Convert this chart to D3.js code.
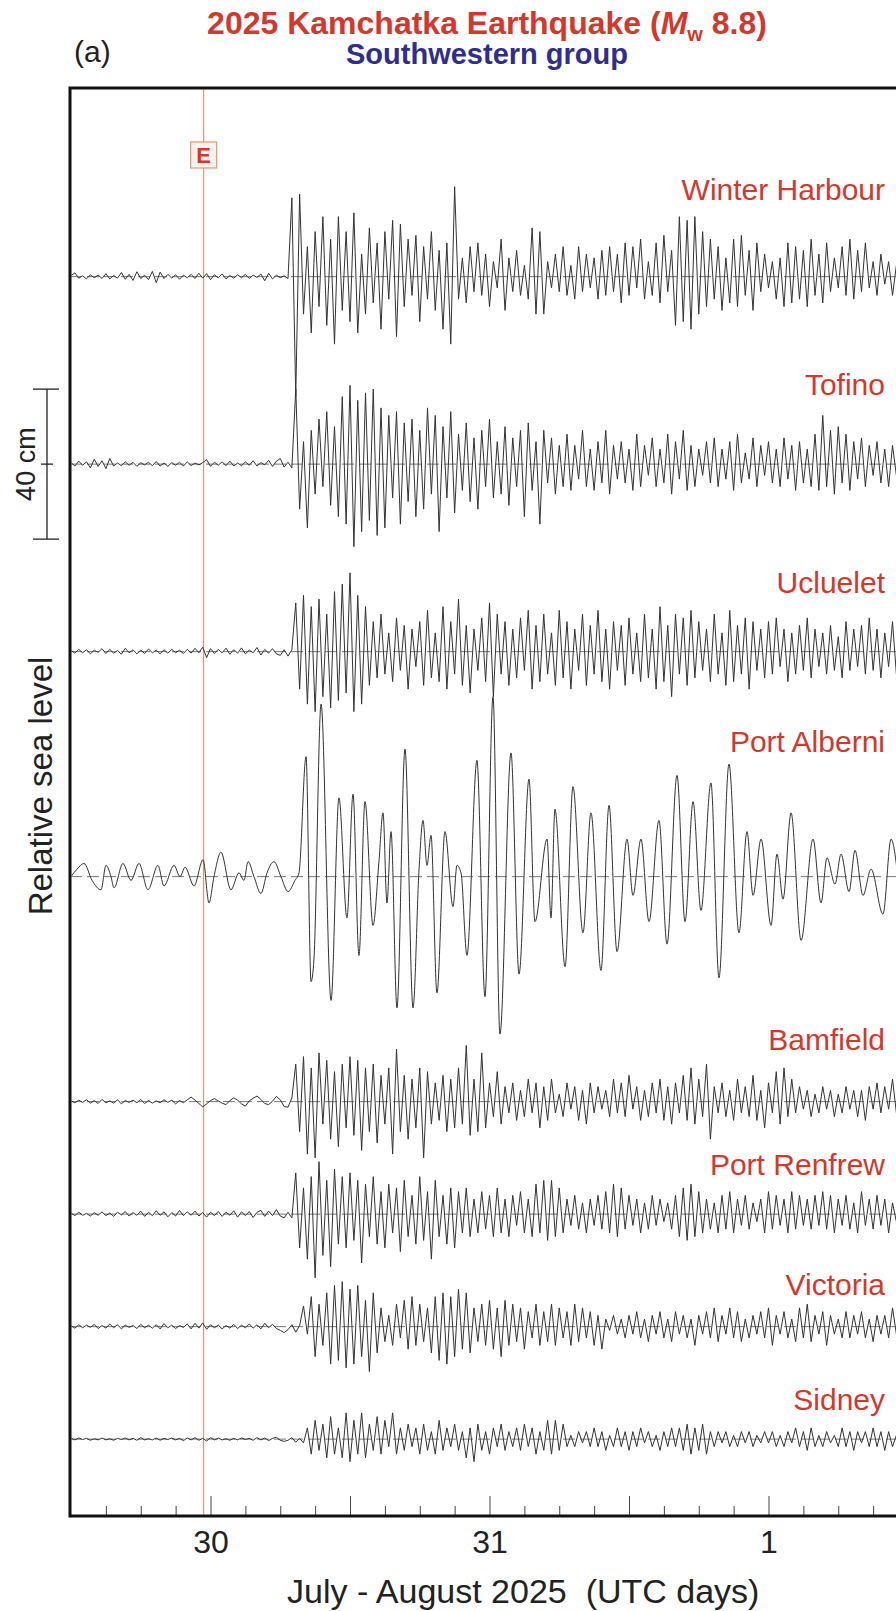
<!DOCTYPE html>
<html>
<head>
<meta charset="utf-8">
<script src="https://cdn.jsdelivr.net/npm/d3@7"></script>
<style>
  body { margin: 0; background: #fff; }
  svg { display: block; font-family: "Liberation Sans", Arial, sans-serif; }
</style>
</head>
<body>
<div id="chart"></div>
<script>
// Stations from top to bottom and the offset of each record (cm)
const stations = ["Winter Harbour", "Tofino", "Ucluelet", "Port Alberni", "Bamfield", "Port Renfrew", "Victoria", "Sidney"];
const offsetsCm = [310, 260, 210, 150, 90, 60, 30, 0];

const winterHarbour = [
  0.3,1.0,-0.4,0.2,-0.6,0.5,-0.3,0.4,-0.5,0.8, -0.6,0.3,-0.4,1.1,-0.7,0.6,-1.0,1.3,-0.5,0.4,
  -0.8,1.4,-1.6,1.2,-0.5,0.6,-0.4,0.5,-0.7,0.4, -0.3,0.6,-0.5,0.9,-0.4,0.8,-0.8,0.5,-0.3,0.7,
  -0.6,0.3,-0.4,0.5,-0.3,0.6,-0.5,0.4,-0.2,0.7, -1.1,0.9,-0.6,0.4,-0.3,0.2,
  -0.5,21,-32,22,-10,8,-15,12,-8,16, -13,10,-18,16,-9,12,-12,17,-15,6,
  -10,13,-7,9,-14,12,-6,15,-16,14, -8,10,-5,11,-12,8,-6,12,-9,7,
  -14,9,-18,24,-6,5,-7,8,-4,9, -5,6,-8,4,-3,10,-9,5,-4,7,
  -5,3,-6,13,-10,12,-10,4,-3,6, -4,8,-5,3,-6,8,-4,6,-3,5,
  -6,7,-5,8,-4,6,-7,9,-5,8, -3,10,-6,4,-5,9,-7,11,-4,7,
  -13,16,-12,15,-14,16,-10,12,-8,10, -6,8,-9,5,-7,10,-8,11,-5,7,
  -9,9,-4,6,-3,4,-6,5,-8,9, -7,8,-6,7,-8,10,-5,6,-7,9,
  -4,5,-3,8,-5,10,-6,7,-4,9, -3,4,-5,6,-2,4,-5,3,-2
];
const tofino = [
  0.4,-0.5,0.8,-0.3,0.6,-1.0,1.3,-0.6,0.9,-1.2, 1.5,-0.5,0.3,-0.4,0.6,-0.3,0.5,-0.6,0.4,-0.2,
  0.5,-0.4,0.7,-0.5,0.3,-0.6,0.4,-0.3,0.5,-0.5, 0.6,-0.4,0.3,-0.2,0.4,1.2,-0.6,0.5,-0.3,0.6,
  -0.4,0.8,-0.5,0.3,-0.4,0.6,-0.3,0.9,-0.5,0.4, -0.2,1.0,-0.6,0.8,1.5,-0.8,
  0.5,-1,20,-12,6,-17,9,-8,12,-6, 14,-11,10,-14,18,-16,21,-22,17,-18,
  19,-15,20,-19,15,-17,13,-9,14,-16, 11,-10,12,-14,9,-12,15,-8,13,-18,
  10,-9,14,-13,8,-7,11,-10,7,-12, 9,-6,12,-9,6,-8,10,-11,7,-6,
  9,-14,11,-7,6,-16,9,-5,7,-8, 5,-6,8,-7,5,-4,9,-6,4,-7,
  6,-5,9,-8,5,-4,6,-5,4,-7, 8,-6,5,-3,7,-6,4,-5,8,-8,
  6,-4,9,-7,5,-6,4,-3,6,-5, 7,-6,4,-4,6,-7,8,-5,3,-4,
  7,-6,5,-3,6,-5,4,-6,7,-4, 5,-7,6,-5,4,-6,8,-7,13,-6,
  9,-8,10,-5,8,-7,6,-4,7,-6, 5,-3,6,-5,4,-6,5,-3,2
];
const ucluelet = [
  0.3,-0.4,0.6,-0.3,0.5,-0.6,0.4,-0.2,0.8,-0.5, 0.6,-0.4,0.3,-0.7,0.9,-0.3,0.5,-0.6,0.4,-0.5,
  0.7,-0.3,0.4,-0.6,0.5,-0.4,0.6,-0.3,0.4,-0.5, 0.6,-0.4,0.9,-0.3,1.2,-1.6,0.8,-0.5,0.6,-0.3,
  0.9,-0.7,0.5,-0.4,1.0,-0.6,0.4,-0.3,1.1,-0.9, 0.6,-0.4,0.8,-0.6,-1.0,0.5,
  -1.2,0.5,13,-10,15,-14,12,-16,14,-12, 10,-15,16,-13,18,-11,21,-16,15,-14,
  12,-9,8,-7,10,-6,5,-8,9,-5, 7,-10,6,-4,8,-9,11,-7,5,-8,
  12,-10,8,-6,14,-9,7,-11,6,-5, 9,-8,13,-12,10,-6,8,-9,6,-7,
  9,-5,11,-10,7,-8,10,-6,5,-9, 11,-7,8,-10,6,-5,10,-9,7,-6,
  11,-8,6,-10,8,-5,7,-9,9,-6, 5,-8,10,-7,6,-10,12,-8,7,-12,
  10,-6,9,-9,11,-7,8,-5,6,-8, 10,-6,5,-9,11,-8,7,-6,9,-10,
  8,-5,6,-7,8,-6,9,-4,6,-8, 5,-6,7,-5,9,-7,6,-4,5,-6,
  7,-5,4,-7,8,-5,6,-4,7,-6, 9,-5,6,-7,5,-4,8,-6,3
];
const bamfield = [
  0.2,-0.3,0.4,-0.2,0.5,-0.4,0.3,-0.5,0.6,-0.3, 0.2,-0.4,0.5,-0.6,0.3,-0.2,0.4,-0.3,0.6,-0.5,
  0.3,-0.4,0.2,-0.3,0.5,-0.2,0.4,-0.6,0.3,-0.3, 0.5,1.2,0.4,-0.5,-1.4,-0.6,0.3,0.8,0.2,-0.4,
  -0.8,0.3,1.0,0.4,-0.6,-1.2,0.2,0.9,1.5,0.6, -0.5,-0.8,0.1,1.4,0.5,-1.3,
  -1.5,1,10,-8,12,-14,9,-15,13,-6, 11,-10,8,-12,10,-7,12,-9,11,-13,
  9,-8,10,-11,7,-6,9,-14,14,-8, 7,-10,6,-7,9,-15,8,-6,5,-5,
  7,-8,6,-7,9,-6,15,-9,6,-8, 13,-7,5,-4,8,-6,4,-3,5,-5,
  3,-4,6,-3,5,-7,4,-5,6,-3, 2,-4,5,-2,4,-5,3,-6,5,-3,
  4,-2,3,-4,6,-3,5,-4,7,-2, 4,-5,3,-4,5,-3,6,-5,4,-6,
  5,-3,7,-5,9,-6,6,-4,10,-10, 4,-3,5,-4,3,-5,6,-3,4,-4,
  7,-5,3,-7,5,-3,8,-6,9,-4, 6,-3,4,-2,3,-4,2,-3,4,-2,
  3,-4,2,-3,4,-2,3,-4,3,-5, 4,-2,5,-3,4,-2,6,-3,2
];
const portRenfrew = [
  0.3,-0.4,0.5,-0.3,0.2,-0.5,0.4,-0.3,0.6,-0.4, 0.3,-0.6,0.5,-0.2,0.7,-0.5,0.4,-0.3,0.8,-0.6,
  0.5,-0.4,0.9,-0.3,0.6,-0.7,0.4,-0.5,1.0,-0.4, 0.6,-0.3,0.8,-0.5,0.4,-0.8,0.5,-0.4,0.7,-0.6,
  0.5,-0.3,0.9,-0.8,0.6,-0.4,0.7,-0.9,0.5,1.0, -0.6,0.8,-0.4,1.2,-0.5,-1.0,
  0.5,-1,11,-9,7,-12,10,-17,14,-11, 9,-14,12,-8,10,-9,11,-7,9,-13,
  8,-6,10,-8,6,-9,8,-5,7,-10, 9,-6,5,-8,10,-7,6,-12,9,-6,
  5,-8,7,-9,6,-5,7,-6,4,-5, 6,-4,5,-6,7,-5,4,-6,5,-3,
  6,-5,4,-6,8,-5,9,-7,9,-6, 7,-5,4,-3,5,-4,3,-5,4,-3,
  5,-4,6,-5,8,-6,7,-4,5,-3, 4,-5,3,-4,5,-3,4,-2,3,-4,
  5,-6,7,-7,8,-6,6,-5,4,-4, 3,-5,5,-4,6,-5,4,-3,5,-4,
  3,-2,4,-5,6,-4,5,-3,4,-5, 6,-4,5,-3,4,-4,5,-3,6,-4,
  5,-5,4,-3,5,-4,3,-5,6,-3, 4,-4,5,-3,4,-5,3,-2,1
];
const victoria = [
  0.2,-0.4,0.5,-0.3,0.4,-0.2,0.6,-0.5,0.3,-0.4, 0.7,-0.3,0.5,-0.6,0.4,-0.2,0.3,-0.5,0.6,-0.3,
  0.4,-0.4,0.5,-0.6,0.8,-0.3,0.4,-0.5,0.3,-0.2, 0.7,-0.6,0.9,-0.4,1.0,-0.7,0.5,-0.3,0.4,-0.6,
  0.3,-0.4,0.6,-0.5,0.4,-0.3,0.7,-0.4,0.5,-0.6, 0.9,-0.3,0.6,-0.5,-1.0,-1.6,
  -0.8,0.5,-1.5,0.3,5.5,-2,8,-8,6,-5, 9,-10,11,-9,12,-11,10,-10,11,-8,
  7,-12,9,-7,5,-4,3,-5,6,-3, 7,-6,8,-5,6,-4,5,-7,8,-9,
  9,-10,8,-8,10,-6,9,-7,5,-4, 6,-5,7,-6,5,-8,7,-5,6,-4,
  5,-6,4,-3,6,-5,4,-4,6,-5, 5,-3,4,-5,6,-4,5,-3,4,-5,
  3,-6,2,-1,3,-2,2,-3,3,-2, 4,-3,2,-4,3,-2,4,-3,2,-4,
  4,-2,3,-3,2,-5,3,-2,4,-3, 5,-4,3,-2,5,-3,4,-4,2,-3,
  3,-2,4,-3,5,-5,3,-2,4,-3, 2,-4,5,-3,6,-4,3,-2,4,-5,
  3,-2,2,-3,4,-3,3,-2,4,-3, 2,-4,3,-2,3,-3,5,-2,1
];
const sidney = [
  0.2,-0.2,0.3,-0.1,0.2,-0.3,0.1,-0.2,0.3,-0.2, 0.1,-0.3,0.2,-0.1,0.3,-0.2,0.2,-0.3,0.4,-0.2,
  0.1,-0.2,0.3,-0.3,0.2,-0.1,0.3,-0.2,0.2,-0.4, 0.3,-0.2,0.4,-0.3,0.2,-0.5,0.4,-0.2,0.3,-0.2,
  0.1,-0.3,0.2,-0.2,0.3,-0.1,0.2,-0.3,0.4,-0.2, 0.3,-0.4,0.2,0.5,-0.3,-0.6,
  -0.3,0.4,-0.8,0.2,-1.0,3,-4,5,-3,4, -5,6,-4,3,-5,7,-6,5,-4,7,
  -5,4,-3,6,-4,5,-2,7,-4,3, -3,4,-2,3,-4,4,-3,2,-4,5,
  -3,3,-2,4,-3,2,-5,3,-6,4, -3,2,-4,3,-2,4,-3,2,-2,3,
  -3,4,-2,3,-4,2,-3,5,-4,5, -3,4,-2,1,-2,2,-1,2,-2,3,
  -2,2,-3,1,-2,3,-2,2,-3,2, -2,3,-1,2,-2,1,-3,2,-2,3,
  -2,3,-3,4,-4,3,-3,4,-4,2, -2,2,-1,2,-2,1,-2,2,-1,2,
  -2,1,-1,2,-1,2,-2,1,-2,2, -1,3,-2,2,-3,3,-2,1,-2,2,
  -1,1,-2,3,-2,2,-3,2,-1,2, -2,3,-2,2,-3,2,-2,1,-1
];

// Port Alberni read as turning points: hours after 29 Jul 12:00 UTC, and cm
const portAlberniHours = [
  0.0,0.52,1.12,1.81,2.58,3.01,3.44,3.70,4.47,5.16,5.85,6.62,7.48,8.00,8.86,9.38,9.81,10.58,
  11.36,11.87,12.30,12.90,13.76,14.45,14.88,15.23,15.74,16.34,16.86,17.46,18.06,18.67,19.27,19.61,
  20.22,20.65,20.90,21.51,22.37,23.05,23.74,24.26,24.77,25.29,25.98,26.49,26.84,27.18,27.53,28.04,
  28.73,29.42,29.94,30.28,30.62,30.97,31.48,32.17,32.86,33.20,33.55,34.06,34.92,35.61,36.30,36.90,
  37.85,38.54,39.40,39.91,40.95,41.29,41.63,42.50,43.18,44.04,44.73,45.59,46.28,46.97,47.83,48.34,
  49.03,49.72,50.58,51.27,52.13,52.82,53.51,54.19,55.05,55.74,56.60,57.46,58.15,58.67,59.36,60.22,
  60.73,61.25,61.94,62.80,63.83,64.52,65.03,65.72,66.24,66.93,67.44,68.13,68.82,69.85,70.54,71.23
];
const portAlberniCm = [
  0,2,3.5,-1,-3.5,3,0,-3,3.5,-1,3.5,-3.5,3,-2.5,3,0,2.5,-2.5,
  4.5,-7,0,6.5,-3.5,1,-1,4,0,-4.5,1,4,0,-4,-1,1,
  32,-28,-22,46,-33,21,-11,22,-21,20,-13,4,17,-7,12,-35,
  34,-35,2,15,3,11,-31,12,-8,3,1,-21,31,-32,48,-42,
  33,-26,26,-12,10,-11,18,-24,24,-15,17,-25,19,-20,10,-5,
  10,-12,15,-18,27,-12,20,-9,25,-27,30,-15,12,-5,10,-13,
  6,-6,17,-17,10,-7,5,-2,6,-4,7,-5,2,-10,10,-3
];

const records = [winterHarbour, tofino, ucluelet, null, bamfield, portRenfrew, victoria, sidney];

// Axis
const dayTicks = [Date.UTC(2025, 6, 30), Date.UTC(2025, 6, 31), Date.UTC(2025, 7, 1)];
const dayLabels = ["30", "31", "1"];
const startTime = Date.UTC(2025, 6, 29, 12);
const endTime = Date.UTC(2025, 7, 1, 12);
const eventTime = Date.UTC(2025, 6, 29, 23, 24, 50);
const sampleMinutes = 20;
const scaleBarCm = 40;

function drawChart() {
    const width = 896;
    const height = 1611;
    const frame = { left: 70, right: 905, top: 88, bottom: 1516 };
    const red = '#d2382c';
    const ink = '#222';
    // label height above each record's zero line (px)
    const labelLift = [77, 69, 59, 125, 52, 39, 32, 29];

    d3.select('#chart').selectAll('*').remove();

    const svg = d3.select('#chart')
        .append('svg')
        .attr('width', width)
        .attr('height', height);

    const x = d3.scaleUtc()
        .domain([new Date(startTime), new Date(endTime)])
        .range([71, 908]);

    const y = d3.scaleLinear()
        .domain([-20.5, 360.3])
        .range([frame.bottom, frame.top]);

    svg.append('clipPath')
        .attr('id', 'plotClip')
        .append('rect')
        .attr('x', frame.left + 1.5)
        .attr('y', frame.top + 1.5)
        .attr('width', frame.right - frame.left - 3)
        .attr('height', frame.bottom - frame.top - 3);

    const plot = svg.append('g').attr('clip-path', 'url(#plotClip)');

    // Earthquake time
    plot.append('line')
        .attr('x1', x(new Date(eventTime)))
        .attr('x2', x(new Date(eventTime)))
        .attr('y1', frame.top)
        .attr('y2', frame.bottom)
        .attr('stroke', '#e0814f')
        .attr('stroke-width', 1);

    // Zero lines
    plot.selectAll('.zero')
        .data(offsetsCm)
        .enter()
        .append('line')
        .attr('class', 'zero')
        .attr('x1', frame.left)
        .attr('x2', frame.right)
        .attr('y1', d => y(d))
        .attr('y2', d => y(d))
        .attr('stroke', '#555')
        .attr('stroke-width', 0.8)
        .attr('stroke-dasharray', '12,5');

    // Sea level records
    stations.forEach((name, k) => {
        let points;
        let curve;
        if (records[k]) {
            points = records[k].map((v, i) => [new Date(startTime + i * sampleMinutes * 60000), v]);
            curve = d3.curveLinear;
        } else {
            points = portAlberniCm.map((v, i) => [new Date(startTime + portAlberniHours[i] * 3600000), v]);
            curve = d3.curveMonotoneX;
        }

        const line = d3.line()
            .x(d => x(d[0]))
            .y(d => y(offsetsCm[k] + d[1]))
            .curve(curve);

        plot.append('path')
            .datum(points)
            .attr('d', line)
            .attr('fill', 'none')
            .attr('stroke', '#333')
            .attr('stroke-width', 1)
            .attr('stroke-linejoin', 'round');

        svg.append('text')
            .attr('x', 885)
            .attr('y', y(offsetsCm[k]) - labelLift[k])
            .attr('text-anchor', 'end')
            .attr('font-size', 30)
            .attr('fill', red)
            .text(name);
    });

    // "E" marker box
    const ex = x(new Date(eventTime));
    svg.append('rect')
        .attr('x', ex - 13)
        .attr('y', 142)
        .attr('width', 26)
        .attr('height', 26)
        .attr('fill', '#fdf3ee')
        .attr('stroke', '#e39474')
        .attr('stroke-width', 1.2);
    svg.append('text')
        .attr('x', ex)
        .attr('y', 163)
        .attr('text-anchor', 'middle')
        .attr('font-size', 22)
        .attr('font-weight', 'bold')
        .attr('fill', red)
        .text('E');

    // Ticks every 3 hours, longer at 00 and 12 UTC
    const hourTicks = d3.utcHour.every(3).range(new Date(startTime + 3 * 3600000), new Date(endTime));
    const tickAxis = svg.append('g')
        .attr('transform', `translate(0,${frame.bottom})`)
        .call(d3.axisBottom(x).tickValues(hourTicks).tickSize(-10).tickFormat(''));
    tickAxis.select('.domain').remove();
    tickAxis.selectAll('.tick line')
        .attr('stroke', '#444')
        .attr('y2', d => d.getUTCHours() % 12 === 0 ? -20 : -10);

    const dayAxis = svg.append('g')
        .attr('transform', `translate(0,${frame.bottom})`)
        .call(d3.axisBottom(x)
            .tickValues(dayTicks.map(d => new Date(d)))
            .tickFormat((d, i) => dayLabels[i])
            .tickSize(0)
            .tickPadding(14));
    dayAxis.select('.domain').remove();
    dayAxis.selectAll('text')
        .attr('font-size', 32)
        .attr('font-family', '"Liberation Sans", Arial, sans-serif')
        .attr('fill', ink);

    svg.append('text')
        .attr('x', 287)
        .attr('y', 1603)
        .attr('font-size', 34)
        .attr('fill', ink)
        .text('July - August 2025\u00a0 (UTC days)');

    // Vertical label and 40 cm scale bar
    svg.append('text')
        .attr('transform', 'translate(52,786) rotate(-90)')
        .attr('text-anchor', 'middle')
        .attr('font-size', 33)
        .attr('fill', ink)
        .text('Relative sea level');

    const barMid = offsetsCm[1];
    const bar = svg.append('g').attr('stroke', ink).attr('stroke-width', 1.3);
    bar.append('line')
        .attr('x1', 47).attr('x2', 47)
        .attr('y1', y(barMid + scaleBarCm / 2))
        .attr('y2', y(barMid - scaleBarCm / 2));
    [barMid + scaleBarCm / 2, barMid - scaleBarCm / 2].forEach(v => {
        bar.append('line')
            .attr('x1', 33).attr('x2', 59)
            .attr('y1', y(v)).attr('y2', y(v));
    });
    bar.append('line')
        .attr('x1', 41).attr('x2', 53)
        .attr('y1', y(barMid)).attr('y2', y(barMid));

    svg.append('text')
        .attr('transform', `translate(35,${y(barMid)}) rotate(-90)`)
        .attr('text-anchor', 'middle')
        .attr('font-size', 27)
        .attr('fill', ink)
        .text(scaleBarCm + ' cm');

    // Frame
    svg.append('rect')
        .attr('x', frame.left)
        .attr('y', frame.top)
        .attr('width', frame.right - frame.left)
        .attr('height', frame.bottom - frame.top)
        .attr('fill', 'none')
        .attr('stroke', '#111')
        .attr('stroke-width', 3);

    // Titles
    const title = svg.append('text')
        .attr('x', 487)
        .attr('y', 34)
        .attr('text-anchor', 'middle')
        .attr('font-size', 32)
        .attr('font-weight', 'bold')
        .attr('fill', red);
    title.append('tspan').text('2025 Kamchatka Earthquake (');
    title.append('tspan').attr('font-style', 'italic').text('M');
    title.append('tspan').attr('font-size', 20).attr('dy', 7).text('w');
    title.append('tspan').attr('dy', -7).text(' 8.8)');

    svg.append('text')
        .attr('x', 487)
        .attr('y', 64)
        .attr('text-anchor', 'middle')
        .attr('font-size', 29)
        .attr('font-weight', 'bold')
        .attr('fill', '#2f2d8e')
        .text('Southwestern group');

    svg.append('text')
        .attr('x', 74)
        .attr('y', 62)
        .attr('font-size', 30)
        .attr('fill', ink)
        .text('(a)');
}

document.addEventListener('DOMContentLoaded', drawChart);
</script>
</body>
</html>
